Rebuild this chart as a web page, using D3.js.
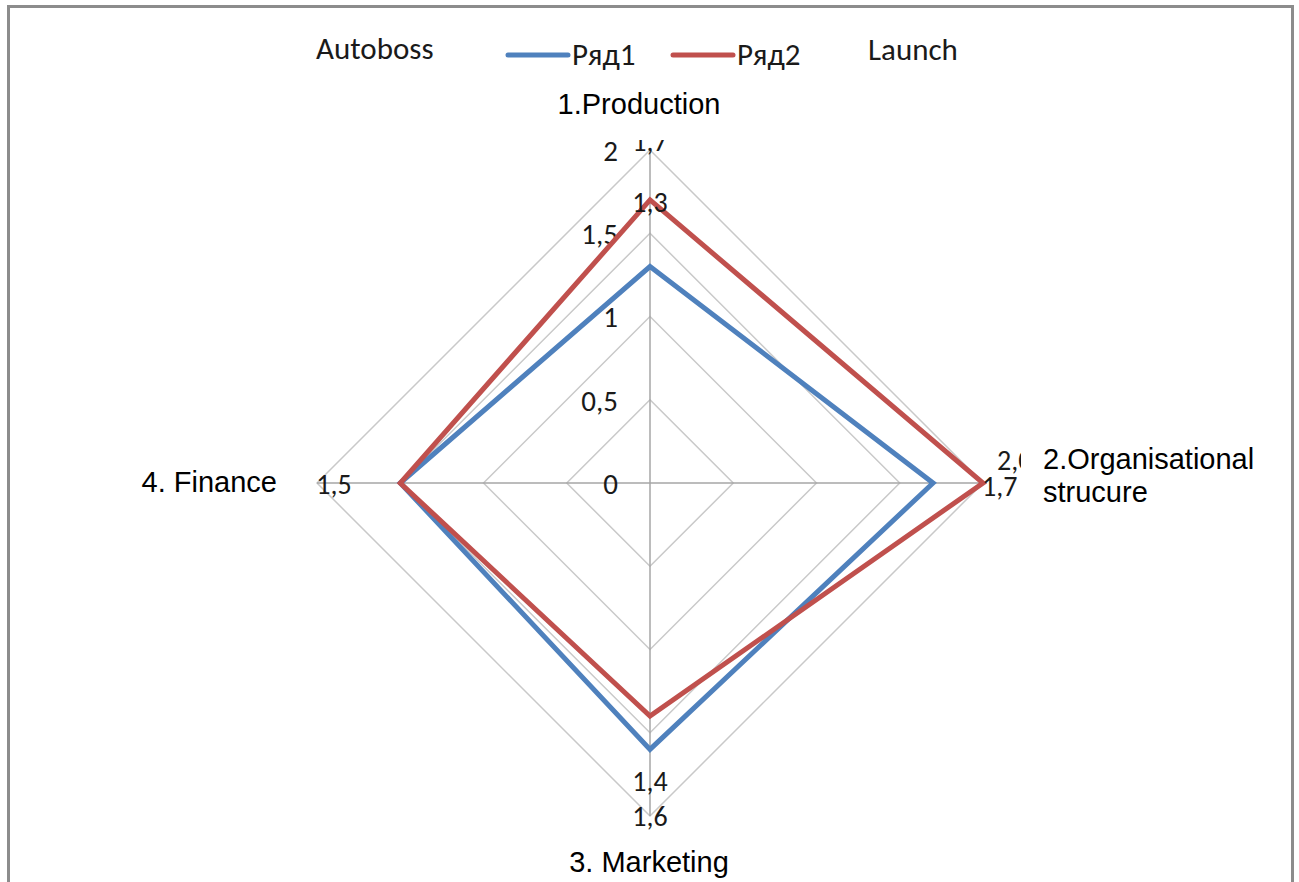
<!DOCTYPE html>
<html>
<head>
<meta charset="utf-8">
<script src="https://cdn.jsdelivr.net/npm/d3@7"></script>
<style>
  html, body { margin: 0; padding: 0; background: #fff; }
  svg { display: block; }
</style>
</head>
<body>
<svg id="chart" width="1299" height="882"></svg>
<script>
// Radar chart data
const categories = ["1.Production", "2.Organisational strucure", "3. Marketing", "4. Finance"];
const seriesNames = ["Ряд1", "Ряд2"];
const series1 = [1.3, 1.7, 1.6, 1.5];
const series2 = [1.7, 2, 1.4, 1.5];
const gridTicks = [0, 0.5, 1, 1.5, 2];
const tickLabels = ["0", "0,5", "1", "1,5", "2"];
const companyNames = ["Autoboss", "Launch"];

const colors = ["#4F81BD", "#C0504D"];
const fmt = v => String(v).replace(".", ",");

const svg = d3.select("#chart");
const cx = 650, cy = 483;

const r = d3.scaleLinear().domain([0, 2]).range([0, 333]);
const angle = d3.scaleLinear().domain([0, categories.length]).range([0, 2 * Math.PI]);
const pt = (i, v) => [cx + r(v) * Math.sin(angle(i)), cy - r(v) * Math.cos(angle(i))];

// outer frame
svg.append("rect").attr("x", 8.5).attr("y", 6.5).attr("width", 1284).attr("height", 900)
  .attr("fill", "#fff").attr("stroke", "#8c8c8c").attr("stroke-width", 3);

// grid diamonds
const grid = svg.append("g");
gridTicks.filter(t => t > 0).forEach(t => {
  grid.append("polygon")
    .attr("points", categories.map((c, i) => pt(i, t).join(",")).join(" "))
    .attr("fill", "none").attr("stroke", "#c9c9c9").attr("stroke-width", 1.5);
});
// spokes
categories.forEach((c, i) => {
  const [x, y] = pt(i, 2);
  grid.append("line").attr("x1", cx).attr("y1", cy).attr("x2", x).attr("y2", y)
    .attr("stroke", "#a6a6a6").attr("stroke-width", 1.5);
});

// tick labels
const labelFont = "Carlito, Lato, 'Open Sans', sans-serif";
svg.append("g").selectAll("text").data(gridTicks).join("text")
  .attr("x", 618).attr("y", d => pt(0, d)[1] + 4)
  .attr("text-anchor", "end").attr("dominant-baseline", "middle")
  .attr("font-family", labelFont).attr("font-size", 29).attr("fill", "#1a1a1a")
  .text((d, i) => tickLabels[i]);

// series polygons
const line = d3.line().curve(d3.curveLinearClosed);
[series1, series2].forEach((s, k) => {
  svg.append("path")
    .attr("d", line(s.map((v, i) => pt(i, v))))
    .attr("fill", "none").attr("stroke", colors[k]).attr("stroke-width", 5)
    .attr("stroke-linejoin", "miter");
});

// data labels
const dataLabels = [
  { v: series2[0], x: cx, y: pt(0, 2)[1] - 6, anchor: "middle" },
  { v: series1[0], x: cx, y: pt(0, series2[0])[1] + 5, anchor: "middle" },
  { v: series2[1], x: pt(1, 2)[0] + 14, y: cy - 20, anchor: "start", f: v => v.toFixed(1).replace(".", ",") },
  { v: series1[1], x: pt(1, 2)[0] - 1, y: cy + 6, anchor: "start" },
  { v: series2[2], x: cx, y: pt(2, 2)[1] - 32, anchor: "middle" },
  { v: series1[2], x: cx, y: pt(2, 2)[1] + 3, anchor: "middle" },
  { v: series1[3], x: pt(3, 2)[0] + 17, y: cy + 4, anchor: "middle" }
];
svg.append("g").selectAll("text").data(dataLabels).join("text")
  .attr("x", d => d.x).attr("y", d => d.y)
  .attr("text-anchor", d => d.anchor).attr("dominant-baseline", "middle")
  .attr("font-family", labelFont).attr("font-size", 28).attr("fill", "#1a1a1a")
  .text(d => (d.f || fmt)(d.v));

// category labels (white boxes behind them)
const catFont = "'Liberation Sans', Arial, sans-serif";
const catG = svg.append("g").attr("font-family", catFont).attr("font-size", 29).attr("fill", "#000");
const catPos = [
  { x: 639, y: 114, anchor: "middle", lines: [categories[0]] },
  { x: 1043, y: 469, anchor: "start", lines: ["2.Organisational", "strucure"] },
  { x: 649, y: 872, anchor: "middle", lines: [categories[2]] },
  { x: 277, y: 492, anchor: "end", lines: [categories[3]] }
];
catPos.forEach(p => {
  const t = catG.append("text").attr("x", p.x).attr("y", p.y).attr("text-anchor", p.anchor);
  p.lines.forEach((l, j) => t.append("tspan").attr("x", p.x).attr("dy", j ? 33 : 0).text(l));
  const b = t.node().getBBox();
  catG.insert("rect", () => t.node())
    .attr("x", b.x - 22).attr("y", b.y - 2).attr("width", b.width + 26).attr("height", b.height + 22)
    .attr("fill", "#fff");
});

// legend
const leg = svg.append("g").attr("font-family", labelFont).attr("font-size", 31).attr("fill", "#1a1a1a");
leg.append("text").attr("x", 316).attr("y", 59).text(companyNames[0]);
leg.append("text").attr("x", 868).attr("y", 60).text(companyNames[1]);
const legX = [508, 673];
seriesNames.forEach((n, k) => {
  leg.append("line").attr("x1", legX[k]).attr("x2", legX[k] + 60).attr("y1", 55).attr("y2", 55)
    .attr("stroke", colors[k]).attr("stroke-width", 5).attr("stroke-linecap", "round");
  leg.append("text").attr("x", legX[k] + 64).attr("y", 65).text(n);
});
</script>
</body>
</html>
